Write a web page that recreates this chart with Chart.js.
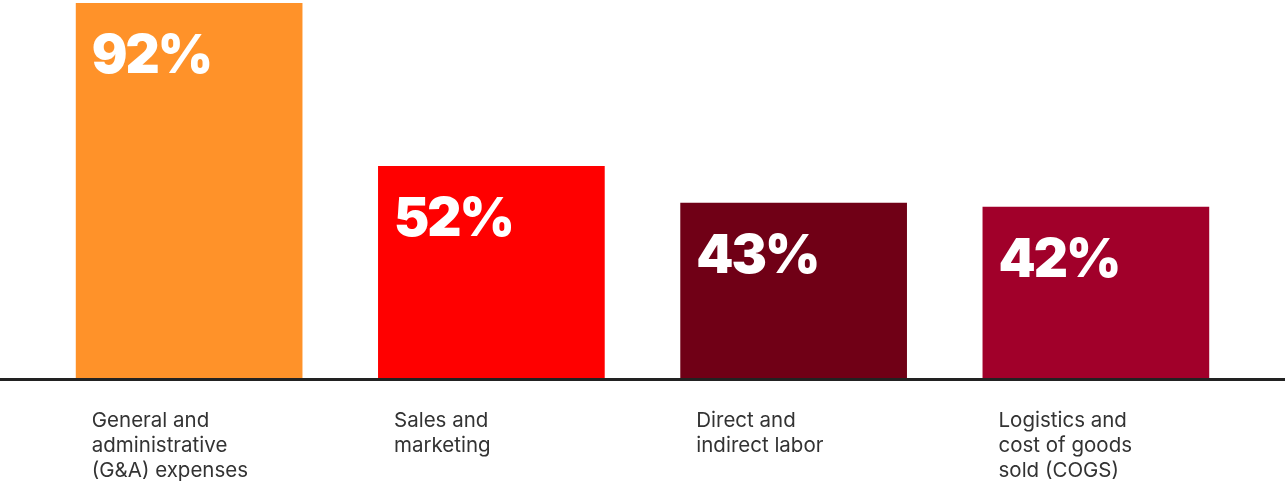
<!DOCTYPE html>
<html>
<head>
<meta charset="utf-8">
<script src="https://cdn.jsdelivr.net/npm/chart.js@4"></script>
<style>
    html, body { margin: 0; padding: 0; background: #fff; }
    #wrap { width: 1285px; height: 481px; }
</style>
</head>
<body>
<div id="wrap"><canvas id="chart"></canvas></div>
<script>
const categories = [
    ['General and', 'administrative', '(G&A) expenses'],
    ['Sales and', 'marketing'],
    ['Direct and', 'indirect labor'],
    ['Logistics and', 'cost of goods', 'sold (COGS)']
];
const shares = [92, 52, 43, 42];
const barColors = ['#FF9229', '#FF0000', '#700016', '#A1002A'];

// draws the big % labels inside bars, the category text below, and the baseline
const labelPlugin = {
    id: 'labels',
    afterDatasetsDraw(chart) {
        const ctx = chart.ctx;
        const meta = chart.getDatasetMeta(0);
        const yZero = chart.scales.y.getPixelForValue(0);

        ctx.save();
        ctx.fillStyle = '#222';
        ctx.fillRect(0, yZero, chart.width, 3);

        meta.data.forEach((bar, i) => {
            const left = bar.x - bar.width / 2;

            ctx.fillStyle = '#fff';
            ctx.font = '900 53px Inter';
            ctx.letterSpacing = '-2px';
            ctx.textAlign = 'left';
            ctx.textBaseline = 'alphabetic';
            ctx.fillText(shares[i] + '%', left + 16, bar.y + 70);

            ctx.fillStyle = '#333';
            ctx.font = '400 20.5px Inter';
            ctx.letterSpacing = '0px';
            categories[i].forEach((line, j) => {
                ctx.fillText(line, left + 16, yZero + 49 + j * 25);
            });
        });
        ctx.restore();
    }
};

new Chart(document.getElementById('chart'), {
    type: 'bar',
    data: {
        labels: categories.map(c => c.join(' ')),
        datasets: [{
            data: shares,
            backgroundColor: barColors,
            categoryPercentage: 1,
            barPercentage: 0.75
        }]
    },
    options: {
        responsive: true,
        maintainAspectRatio: false,
        animation: false,
        layout: { padding: { left: 38, right: 38, top: 3, bottom: 103 } },
        plugins: {
            legend: { display: false },
            tooltip: { enabled: false }
        },
        scales: {
            x: { display: false },
            y: { display: false, min: 0, max: 92 }
        }
    },
    plugins: [labelPlugin]
});
</script>
</body>
</html>
